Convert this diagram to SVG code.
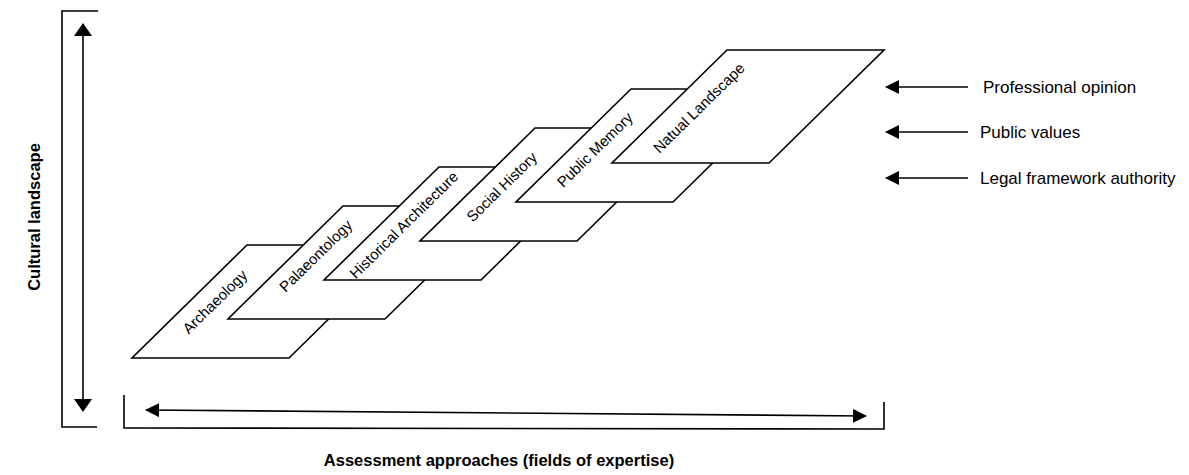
<svg xmlns="http://www.w3.org/2000/svg" width="1189" height="475" viewBox="0 0 1189 475">
<style>
.plate{fill:#fff;stroke:#000;stroke-width:1.6;stroke-linejoin:miter}
.pl{font-family:"Liberation Sans",Arial,sans-serif;font-size:15px;fill:#000;text-anchor:middle}
.line{fill:none;stroke:#000;stroke-width:1.6}
.lbl{font-family:"Liberation Sans",Arial,sans-serif;font-size:17px;fill:#000}
.ax{font-family:"Liberation Sans",Arial,sans-serif;font-size:16.5px;font-weight:bold;fill:#000;text-anchor:middle}
</style>
<defs>
<marker id="ah" viewBox="0 0 14 14" refX="13" refY="7" markerWidth="14" markerHeight="14" markerUnits="userSpaceOnUse" orient="auto-start-reverse">
<path d="M0,0 L14,7 L0,14 Z" fill="#000"/>
</marker>
</defs>
<rect width="1189" height="475" fill="#fff"/>

<g id="axis-cultural">
<path class="line" d="M98,11 L62,11 L62,427 L97,427"/>
<text class="ax" transform="translate(40,217) rotate(-90)" x="0" y="0" font-size="19.5">Cultural landscape</text>
</g>

<g id="axis-assessment">
<path class="line" d="M124,395 L124,428 L884,429 L884,402"/>
<text class="ax" x="499" y="466">Assessment approaches (fields of expertise)</text>
</g>

<g id="plate-archaeology">
<polygon class="plate" points="132,358 289,358 404,245 247,245"/>
<text class="pl" transform="translate(215,302) rotate(-44.5)" x="0" y="5">Archaeology</text>
</g>
<g id="plate-palaeontology">
<polygon class="plate" points="228,319 385,319 500,206 343,206"/>
<text class="pl" transform="translate(316,256) rotate(-44.5)" x="0" y="5">Palaeontology</text>
</g>
<g id="plate-historical-architecture">
<polygon class="plate" points="324,280 481,280 596,167 439,167"/>
<text class="pl" transform="translate(404,225) rotate(-44.5)" x="0" y="5">Historical Architecture</text>
</g>
<g id="plate-social-history">
<polygon class="plate" points="420,241 577,241 692,128 535,128"/>
<text class="pl" transform="translate(502,187) rotate(-44.5)" x="0" y="5">Social History</text>
</g>
<g id="plate-public-memory">
<polygon class="plate" points="516,202 673,202 788,89 631,89"/>
<text class="pl" transform="translate(595,150) rotate(-44.5)" x="0" y="5">Public Memory</text>
</g>
<g id="plate-natural-landscape">
<polygon class="plate" points="612,163 769,163 884,50 727,50"/>
<text class="pl" transform="translate(699,108) rotate(-44.5)" x="0" y="5">Natual Landscape</text>
</g>

<g id="label-professional">
<text class="lbl" x="983" y="93">Professional opinion</text>
</g>
<g id="label-public">
<text class="lbl" x="980" y="138">Public values</text>
</g>
<g id="label-legal">
<text class="lbl" x="980" y="184">Legal framework authority</text>
</g>

<g id="connectors">
<line class="line" x1="83" y1="36" x2="83" y2="400" />
<path d="M83,23 L92,36 L74,36 Z" fill="#000"/>
<path d="M83,412 L92,399 L74,399 Z" fill="#000"/>
<line class="line" x1="146" y1="410" x2="866" y2="416" marker-start="url(#ah)" marker-end="url(#ah)"/>
<line class="line" x1="968" y1="87" x2="886" y2="87" marker-end="url(#ah)"/>
<line class="line" x1="968" y1="132" x2="886" y2="132" marker-end="url(#ah)"/>
<line class="line" x1="968" y1="178" x2="886" y2="178" marker-end="url(#ah)"/>
</g>
</svg>
